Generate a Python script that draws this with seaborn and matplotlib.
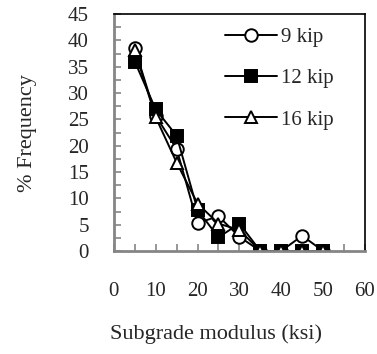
import numpy as np
import pandas as pd
import matplotlib
matplotlib.use("Agg")
import matplotlib.pyplot as plt
import seaborn as sns
from matplotlib.ticker import MultipleLocator

# Subgrade modulus bins (ksi)
modulus = [5, 10, 15, 20, 25, 30, 35, 40, 45, 50]

# % frequency per axle load
freq_9kip = [38.5, 25.7, 19.4, 5.3, 6.6, 2.7, 0, 0, 2.9, 0]
freq_12kip = [36.0, 26.9, 21.9, 7.8, 2.6, 5.2, 0, 0, 0, 0]
freq_16kip = [38.1, 25.4, 16.8, 9.0, 5.2, 4.0, 0, 0, 0, 0]

series_labels = ["9 kip", "12 kip", "16 kip"]

df = pd.DataFrame({
    "modulus": modulus * 3,
    "freq": freq_9kip + freq_12kip + freq_16kip,
    "load": np.repeat(series_labels, len(modulus)),
})

sns.set_style("white")
plt.rcParams["font.family"] = ["Liberation Serif", "DejaVu Serif"]

fig = plt.figure(figsize=(3.77, 3.54), dpi=100)
ax = fig.add_axes([0.302, 0.291, 0.666, 0.669])

styles = {
    "9 kip": dict(marker="o", markerfacecolor="white", markersize=9),
    "12 kip": dict(marker="s", markerfacecolor="black", markersize=8.5),
    "16 kip": dict(marker="^", markerfacecolor="white", markersize=8.5),
}

for lab in series_labels:
    sub = df[df["load"] == lab]
    sns.lineplot(data=sub, x="modulus", y="freq", ax=ax, color="black",
                 linewidth=1.4, markeredgecolor="black", markeredgewidth=1.4,
                 label=lab, **styles[lab])

ax.set_xlim(0, 60)
ax.set_ylim(0, 45)
ax.xaxis.set_major_locator(MultipleLocator(10))
ax.xaxis.set_minor_locator(MultipleLocator(5))
ax.yaxis.set_major_locator(MultipleLocator(5))
ax.yaxis.set_minor_locator(MultipleLocator(2.5))

for side in ["left", "bottom"]:
    ax.spines[side].set_color("#858585")
    ax.spines[side].set_linewidth(2.0)
for side in ["top", "right"]:
    ax.spines[side].set_color("black")
    ax.spines[side].set_linewidth(1.2)
    ax.spines[side].set_visible(True)

ax.tick_params(axis="both", which="both", direction="in", color="#858585",
               width=1.2, length=5, left=True, bottom=True, top=False, right=False)
ax.tick_params(axis="x", which="major", pad=22, labelsize=15)
ax.tick_params(axis="y", which="major", pad=18, labelsize=15)

ax.set_xlabel("Subgrade modulus (ksi)", fontsize=16)
ax.xaxis.set_label_coords(0.405, -0.31)
ax.set_ylabel("% Frequency", fontsize=16, labelpad=22)

leg = ax.legend(loc="upper left", bbox_to_anchor=(0.41, 0.98), frameon=False,
                fontsize=15, handlelength=2.5, labelspacing=1.05,
                handletextpad=0.2, borderaxespad=0.0)

fig.savefig("out.png", dpi=100)
